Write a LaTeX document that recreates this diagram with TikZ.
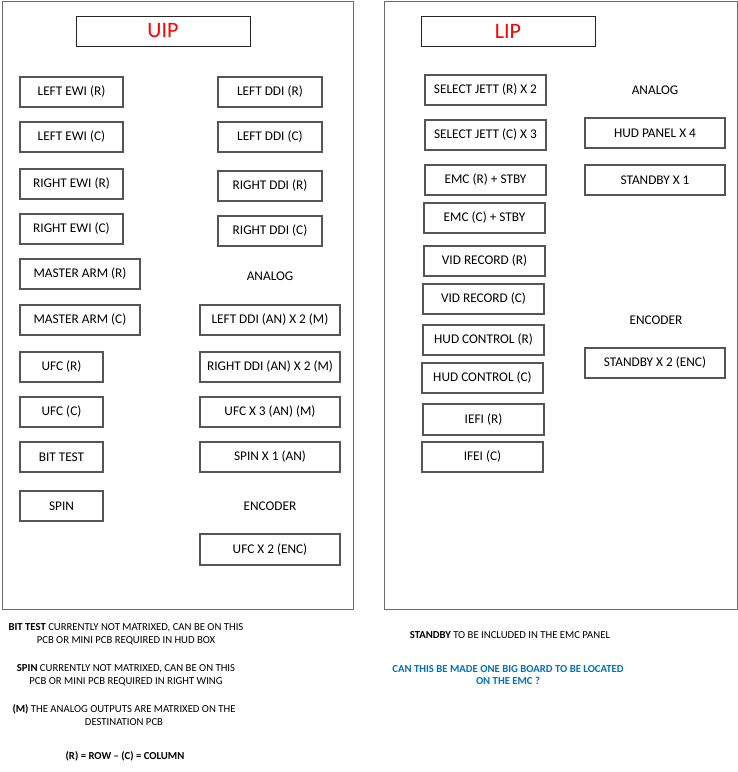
\documentclass[tikz,border=0pt]{standalone}
\usepackage{fontspec}
\setmainfont{Carlito}
\definecolor{boxgray}{HTML}{555555}
\definecolor{framegray}{HTML}{6A6A6A}
\definecolor{titlered}{HTML}{FF0000}
\definecolor{noteblue}{HTML}{0070C0}
\tikzset{
  box/.style={draw=boxgray, line width=1.2pt, fill=white, inner sep=0pt, minimum height=30pt,
    font=\fontsize{13.3}{15}\selectfont, text=black},
  titlebox/.style={draw=black!85, line width=0.9pt, inner sep=0pt, minimum width=174pt, minimum height=30pt,
    font=\fontsize{22}{24}\selectfont, text=titlered},
  heading/.style={inner sep=0pt, font=\fontsize{13.3}{15}\selectfont},
  note/.style={inner sep=0pt, align=center, font=\fontsize{10.7}{12.8}\selectfont},
  frame/.style={draw=framegray, line width=1pt}
}
\begin{document}
\begin{tikzpicture}[x=1pt,y=-1pt]
\useasboundingbox (0,0) rectangle (738,772);
\fill[white] (0,0) rectangle (738,772);
% frames
\draw[frame] (2,1) rectangle (353,609);
\draw[frame] (384,1) rectangle (737,609);
% UIP
\node[titlebox] (uip) at (163,31) {UIP};
\node[box, minimum width=103pt] (lewir) at (71.5,92) {LEFT EWI (R)};
\node[box, minimum width=103pt] (lewic) at (71.5,137) {LEFT EWI (C)};
\node[box, minimum width=103pt] (rewir) at (71.5,184) {RIGHT EWI (R)};
\node[box, minimum width=103pt] (rewic) at (71.5,229) {RIGHT EWI (C)};
\node[box, minimum width=120pt] (mar) at (80,274) {MASTER ARM (R)};
\node[box, minimum width=120pt] (mac) at (80,320) {MASTER ARM (C)};
\node[box, minimum width=83pt] (ufcr) at (61.5,367) {UFC (R)};
\node[box, minimum width=83pt] (ufcc) at (61.5,412) {UFC (C)};
\node[box, minimum width=83pt] (bit) at (61.5,457) {BIT TEST};
\node[box, minimum width=83pt] (spin) at (61.5,506) {SPIN};
\node[box, minimum width=104pt] (lddir) at (270,92) {LEFT DDI (R)};
\node[box, minimum width=104pt] (lddic) at (270,137) {LEFT DDI (C)};
\node[box, minimum width=104pt] (rddir) at (270,186) {RIGHT DDI (R)};
\node[box, minimum width=104pt] (rddic) at (270,231) {RIGHT DDI (C)};
\node[heading] (uanalog) at (270,276) {ANALOG};
\node[box, minimum width=140pt] (lddian) at (270,320) {LEFT DDI (AN) X 2 (M)};
\node[box, minimum width=140pt] (rddian) at (270,367) {RIGHT DDI (AN) X 2 (M)};
\node[box, minimum width=140pt] (ufcan) at (270,412) {UFC X 3 (AN) (M)};
\node[box, minimum width=140pt] (spinan) at (270,457) {SPIN X 1 (AN)};
\node[heading] (uenc) at (270,506) {ENCODER};
\node[box, minimum width=140pt, minimum height=31pt] (ufcenc) at (270,549.5) {UFC X 2 (ENC)};
% LIP
\node[titlebox] (lip) at (508,31) {LIP};
\node[box, minimum width=121pt] (sjr) at (485.5,90) {SELECT JETT (R) X 2};
\node[box, minimum width=121pt] (sjc) at (485.5,135) {SELECT JETT (C) X 3};
\node[box, minimum width=121pt] (emcr) at (485.5,180) {EMC (R) + STBY};
\node[box, minimum width=121pt] (emcc) at (484.5,218) {EMC (C) + STBY};
\node[box, minimum width=121pt] (vidr) at (484.5,261) {VID RECORD (R)};
\node[box, minimum width=121pt] (vidc) at (483.5,299) {VID RECORD (C)};
\node[box, minimum width=121pt] (hudr) at (483.5,340) {HUD CONTROL (R)};
\node[box, minimum width=121pt] (hudc) at (482.5,378) {HUD CONTROL (C)};
\node[box, minimum width=121pt, minimum height=31pt] (iefir) at (483.5,419.5) {IEFI (R)};
\node[box, minimum width=121pt] (ifeic) at (482.5,457) {IFEI (C)};
\node[heading] (lanalog) at (655,90) {ANALOG};
\node[box, minimum width=140pt] (hudp) at (655,133) {HUD PANEL X 4};
\node[box, minimum width=140pt] (stby1) at (655,180) {STANDBY X 1};
\node[heading] (lenc) at (656,320) {ENCODER};
\node[box, minimum width=140pt] (stby2) at (655,363) {STANDBY X 2 (ENC)};
% notes
\node[note] (n1) at (126,634) {\textbf{BIT TEST} CURRENTLY NOT MATRIXED, CAN BE ON THIS\\PCB OR MINI PCB REQUIRED IN HUD BOX};
\node[note] (n2) at (126,675) {\textbf{SPIN} CURRENTLY NOT MATRIXED, CAN BE ON THIS\\PCB OR MINI PCB REQUIRED IN RIGHT WING};
\node[note] (n3) at (124,715) {\textbf{(M)} THE ANALOG OUTPUTS ARE MATRIXED ON THE\\DESTINATION PCB};
\node[note] (n4) at (125,756) {\textbf{(R) = ROW – (C) = COLUMN}};
\node[note] (n5) at (510,635) {\textbf{STANDBY} TO BE INCLUDED IN THE EMC PANEL};
\node[note, text=noteblue] (n6) at (508,675) {\textbf{CAN THIS BE MADE ONE BIG BOARD TO BE LOCATED}\\\textbf{ON THE EMC ?}};
\end{tikzpicture}
\end{document}
